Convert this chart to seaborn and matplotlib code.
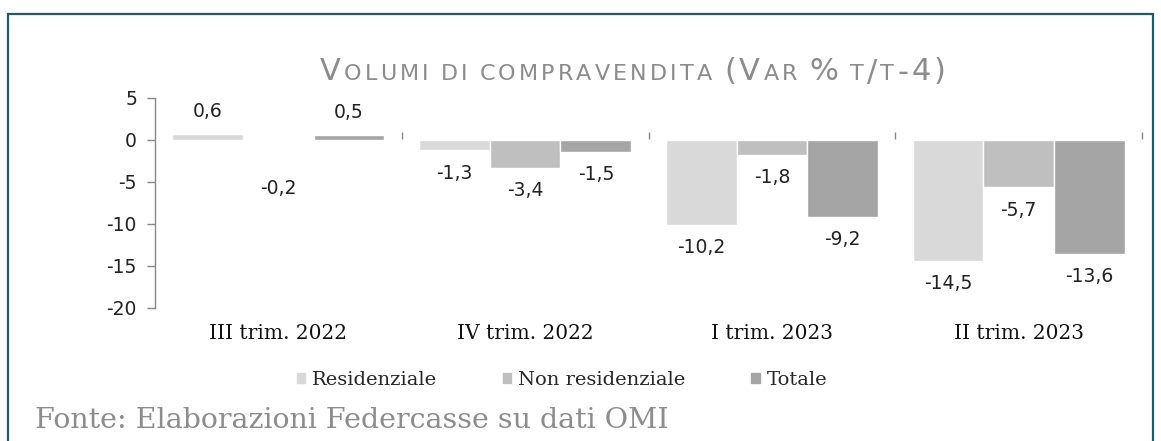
import matplotlib
matplotlib.use("Agg")
import matplotlib.pyplot as plt
import seaborn as sns
import pandas as pd
from matplotlib.patches import Rectangle
from matplotlib.offsetbox import TextArea, HPacker, AnchoredOffsetbox, DrawingArea

categories = ["III trim. 2022", "IV trim. 2022", "I trim. 2023", "II trim. 2023"]
series = ["Residenziale", "Non residenziale", "Totale"]
residenziale = [0.6, -1.3, -10.2, -14.5]
non_residenziale = [-0.2, -3.4, -1.8, -5.7]
totale = [0.5, -1.5, -9.2, -13.6]
colors = ["#d9d9d9", "#bfbfbf", "#a5a5a5"]
yticks = [5, 0, -5, -10, -15, -20]
title = "Volumi di compravendita (Var % t/t-4)"
source = "Fonte: Elaborazioni Federcasse su dati OMI"

sns.set_theme(style="white")
plt.rcParams["axes.unicode_minus"] = False
plt.rcParams["font.family"] = ["DejaVu Sans"]
SERIF = ["DejaVu Serif"]

rows = []
for s, vals in zip(series, [residenziale, non_residenziale, totale]):
    for c, v in zip(categories, vals):
        rows.append({"cat": c, "serie": s, "val": v})
df = pd.DataFrame(rows)

W, H = 1161, 441
fig = plt.figure(figsize=(W/100, H/100), dpi=100)
ax = fig.add_axes([155/W, 1-307.5/H, (1142-155)/W, (307.5-97.5)/H])

sns.barplot(data=df, x="cat", y="val", hue="serie", order=categories,
            hue_order=series, palette=colors, width=0.86, ax=ax,
            saturation=1, legend=False, errorbar=None)

ax.set_ylim(-20, 5)
ax.set_xlim(-0.5, 3.5)
ax.set_yticks(yticks)
ax.set_yticklabels([str(t) for t in yticks], fontsize=13.5, color="#222222")
ax.tick_params(axis="y", length=6, width=1, color="#888888", direction="out", left=True, pad=7)
ax.set_xticks(range(len(categories)))
ax.set_xticklabels(categories, fontsize=14.5, family=SERIF, color="#111111")
ax.tick_params(axis="x", length=0, pad=12)
ax.set_xlabel("")
ax.set_ylabel("")
for sp in ["top", "right", "bottom"]:
    ax.spines[sp].set_visible(False)
ax.spines["left"].set_color("#888888")
ax.spines["left"].set_linewidth(1)

sec = ax.secondary_xaxis(0.8)
sec.set_xticks([0.5, 1.5, 2.5, 3.5])
sec.set_xticklabels([])
sec.tick_params(axis="x", length=5, width=1, color="#888888", direction="out")
sec.spines["bottom"].set_color("#888888")
sec.spines["bottom"].set_linewidth(1.4)
for sp in ["top", "left", "right"]:
    sec.spines[sp].set_visible(False)

# value labels
for container, vals in zip(ax.containers, [residenziale, non_residenziale, totale]):
    for bar, v in zip(container, vals):
        xc = bar.get_x() + bar.get_width() / 2
        if v >= 0:
            ypos = v + 2.7
        elif v <= -1:
            ypos = v - 2.7
        else:
            ypos = v - 5.6
        s = f"{v:.1f}".replace(".", ",")
        ax.text(xc, ypos, s, ha="center", va="center", fontsize=13.5, color="#222222")

# title with small-caps emulation
tcol = "#8c8c8c"
big, small = 22, 16
children = []
for ch in title:
    if ch == " ":
        children.append(DrawingArea(4, 1))
        continue
    if ch.isalpha() and ch.islower():
        txt, sz = ch.upper(), small
    else:
        txt, sz = ch, big
    children.append(TextArea(txt, textprops=dict(fontsize=sz, color=tcol, family=["DejaVu Sans"])))
pack = HPacker(children=children, align="baseline", pad=0, sep=2.3)
ab = AnchoredOffsetbox(loc="center", child=pack, frameon=False, pad=0, borderpad=0,
                       bbox_to_anchor=(633/W, 1-72/H), bbox_transform=fig.transFigure)
fig.add_artist(ab)

# legend
handles = [Rectangle((0, 0), 1, 1, color=c) for c in colors]
fig.legend(handles, series, loc="center", bbox_to_anchor=(562/W, 1-380/H), ncol=3,
           frameon=False, handlelength=0.42, handleheight=0.42, handletextpad=0.35,
           columnspacing=3.4, prop={"family": SERIF, "size": 14})

fig.text(35/W, 1-421/H, source, fontsize=20.5, color="#8c8c8c", family=SERIF,
         va="center", ha="left")

fig.add_artist(Rectangle((8/W, -0.05), (1153-8)/W, 1.05-14/H, transform=fig.transFigure,
                         fill=False, edgecolor="#1d5b6b", linewidth=1.6))

fig.savefig("out.png", dpi=100)
